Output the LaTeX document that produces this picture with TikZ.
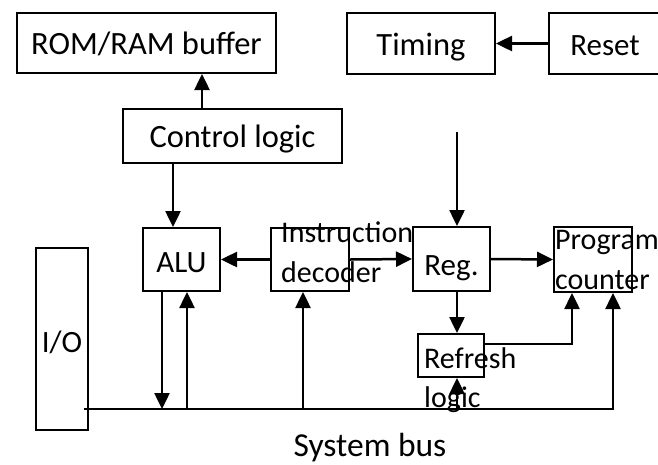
\documentclass[tikz,border=0pt]{standalone}
\usepackage{fontspec}
\setmainfont{Carlito}
\usetikzlibrary{arrows.meta}
\begin{document}
\begin{tikzpicture}[x=1pt,y=-1pt,
  box/.style={draw, line width=2pt, inner sep=0pt, text height=22pt, text depth=0pt, font=\fontsize{31}{37}\selectfont},
  bigbox/.style={box, font=\fontsize{32.5}{39}\selectfont},
  lbl/.style={inner sep=0pt, font=\fontsize{30}{36}\selectfont, anchor=base west},
  conn/.style={line width=2.5pt},
  arr/.style={conn, -{Triangle[length=16pt,width=15pt]}}]
\clip (0,0) rectangle (658,464);
\fill[white] (0,0) rectangle (658,464);
% boxes
\node[bigbox, minimum width=259pt, minimum height=60pt] (rom) at (146.5,43) {ROM/RAM buffer};
\node[bigbox, text height=23pt, minimum width=148pt, minimum height=61pt] (timing) at (421,43.5) {Timing};
\node[box, text height=23pt, minimum width=112pt, minimum height=61pt] (reset) at (605,43.5) {Reset};
\node[bigbox, minimum width=219pt, minimum height=54pt] (ctrl) at (232.5,136) {Control logic};
\node[box, text height=25pt, minimum width=77pt, minimum height=63pt] (alu) at (181.5,259.5) {ALU};
\node[box, minimum width=78pt, minimum height=63pt] (dec) at (310,259.5) {};
\node[box, text height=32pt, minimum width=77pt, minimum height=64pt] (reg) at (451.5,259) {Reg.};
\node[box, minimum width=78pt, minimum height=65pt] (pc) at (593,259.5) {};
\node[box, minimum width=66pt, minimum height=43pt] (ref) at (451,355.5) {};
\node[box, text height=26pt, minimum width=52pt, minimum height=182pt] (io) at (62,339) {I/O};
% overflowing labels
\node[lbl] (decA) at (281,242) {Instruction};
\node[lbl] (decB) at (281,282) {decoder};
\node[lbl] (pcA) at (555,249) {Program};
\node[lbl] (pcB) at (555,289) {counter};
\node[lbl] (refA) at (424,368) {Refresh};
\node[lbl] (refB) at (424,407) {logic};
\node[inner sep=0pt, font=\fontsize{33.5}{40}\selectfont, anchor=base] (bus) at (370,456) {System bus};
% helper coordinates
\coordinate (x202) at (202,0);
\coordinate (x173) at (173,0);
\coordinate (x162) at (162,0);
\coordinate (x187) at (187,0);
\coordinate (x303) at (303,0);
\coordinate (x457) at (457,0);
\coordinate (top) at (457,132);
\coordinate (corner) at (572,344);
\coordinate (busL) at (84,409);
\coordinate (busR) at (613,409);
% connectors
\draw[arr] (x202 |- ctrl.north) -- (x202 |- rom.south);
\draw[arr] (reset.west) -- (timing.east);
\draw[arr] (x173 |- ctrl.south) -- (x173 |- alu.north);
\draw[arr] (dec.west) -- (alu.east);
\draw[arr] (dec.east) -- (reg.west);
\draw[arr] (reg.east) -- (pc.west);
\draw[arr] (top) -- (top |- reg.north);
\draw[arr] (x457 |- reg.south) -- (x457 |- ref.north);
\draw[arr] (ref.east |- corner) -- (corner) -- (corner |- pc.south);
\draw[arr] (busL) -- (busR) -- (busR |- pc.south);
\draw[arr] (x162 |- alu.south) -- (x162 |- busL);
\draw[arr] (x187 |- busL) -- (x187 |- alu.south);
\draw[arr] (x303 |- busL) -- (x303 |- dec.south);
\draw[arr] (x457 |- busL) -- (x457 |- ref.south);
\end{tikzpicture}
\end{document}
